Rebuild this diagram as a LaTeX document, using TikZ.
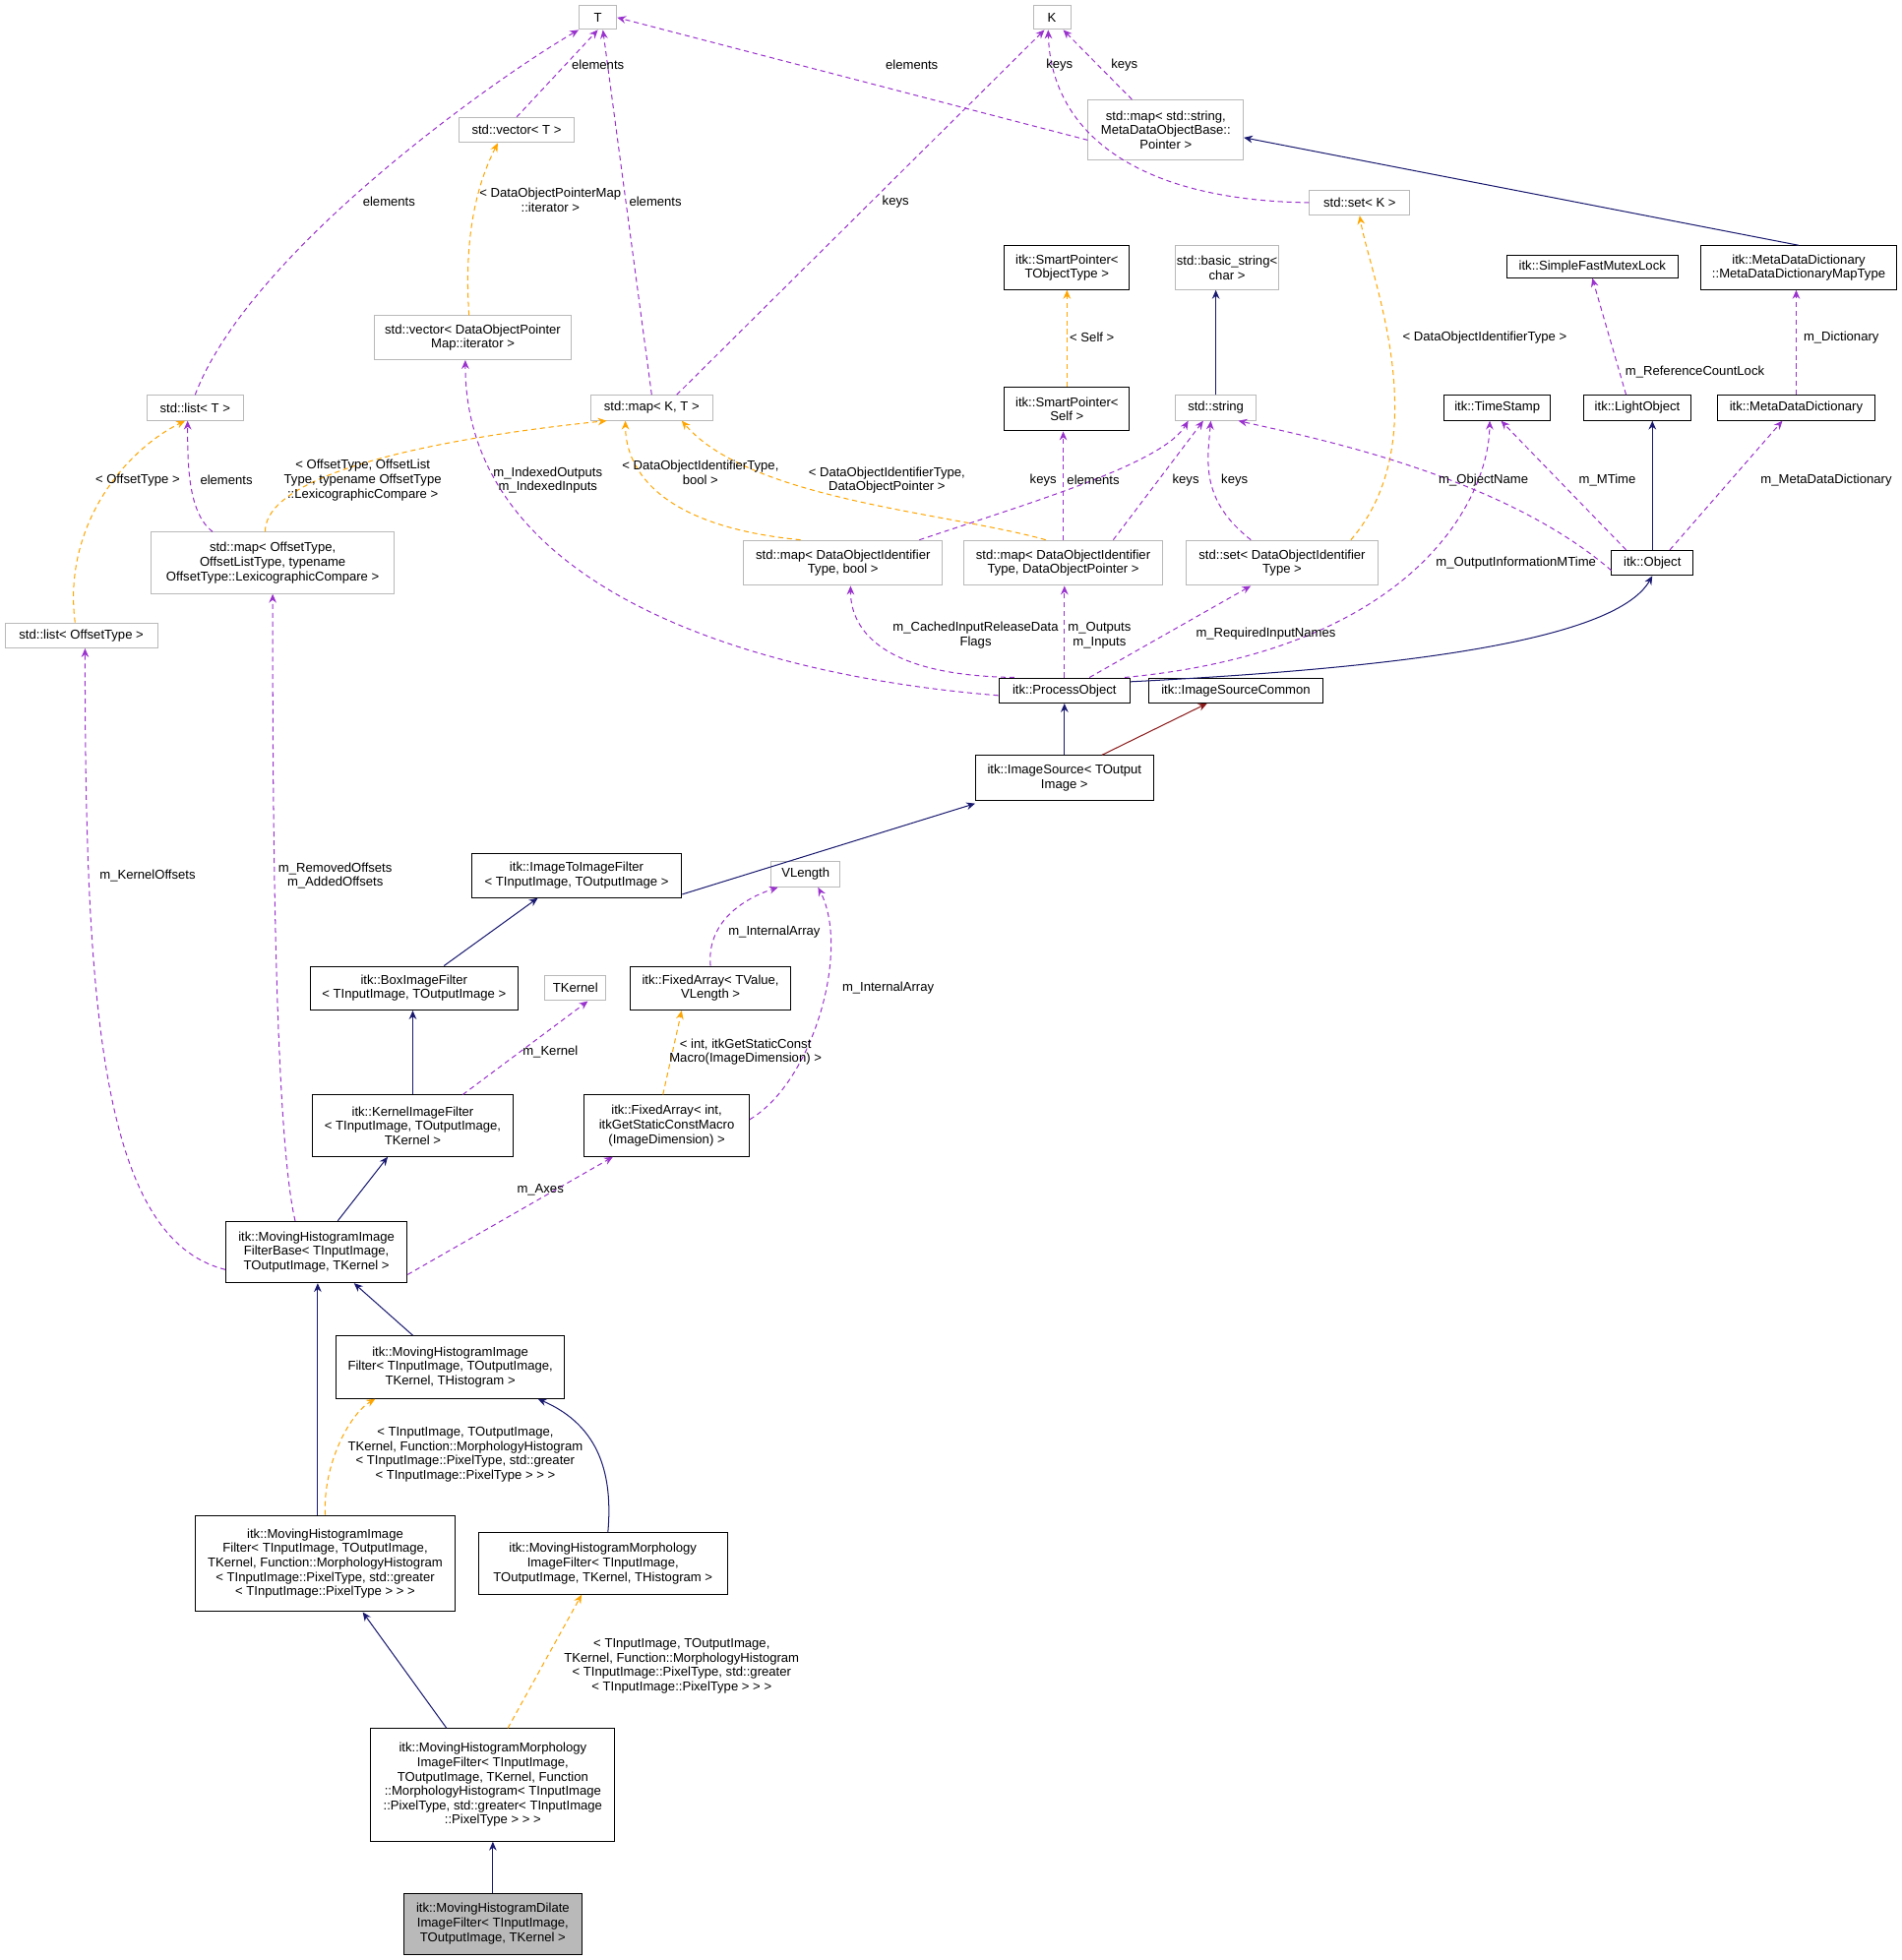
\documentclass[tikz,border=0pt]{standalone}
\usepackage{fontspec}
\setmainfont{Liberation Sans}
\usetikzlibrary{arrows.meta}
\definecolor{navyc}{HTML}{191970}
\definecolor{purp}{HTML}{9A32CD}
\definecolor{orng}{HTML}{FFA500}
\definecolor{dred}{HTML}{8B1A1A}
\tikzset{
 box/.style={draw=black,line width=0.8pt,align=center,inner sep=1pt,font=\fontsize{10.3}{11.5}\selectfont},
 gbox/.style={box,draw=gray!55},
 inh/.style={navyc,line width=0.8pt,-{Stealth[length=7pt,width=6pt]}},
 use/.style={purp,line width=0.8pt,dash pattern=on 4pt off 3pt,-{Stealth[length=7pt,width=6pt]}},
 tmpl/.style={orng,line width=0.8pt,dash pattern=on 4pt off 3pt,-{Stealth[length=7pt,width=6pt]}},
 lab/.style={align=center,inner sep=0pt,font=\fontsize{10.3}{11.5}\selectfont}
}
\newcommand{\bx}[8]{\node[#1,minimum width=#4pt,minimum height=#5pt] (#2) at (#3) {#7};}
\begin{document}
\begin{tikzpicture}[x=1pt,y=-1pt]
\useasboundingbox (0,0) rectangle (1520,1567);
\bx{gbox}{T}{478,14}{30}{19}{}{T}{}
\bx{gbox}{K}{841,14}{30}{19}{}{K}{}
\bx{gbox}{vecT}{413,104}{92}{20}{}{std::vector< T >}{}
\bx{gbox}{mapStr}{932,104}{124}{48}{}{std::map< std::string,\\ MetaDataObjectBase::\\Pointer >}{}
\bx{gbox}{setK}{1087,162}{80}{20}{}{std::set< K >}{}
\bx{gbox}{vecDOP}{378,270}{158}{35}{}{std::vector< DataObjectPointer\\Map::iterator >}{}
\bx{box}{SPT}{853,214}{100}{35}{}{itk::SmartPointer<\\ TObjectType >}{}
\bx{gbox}{bstr}{981,214}{82}{35}{}{std::basic\_string<\\ char >}{}
\bx{box}{SFML}{1273,213}{137}{18}{}{itk::SimpleFastMutexLock}{}
\bx{box}{MDDMT}{1438,214}{157}{35}{}{itk::MetaDataDictionary\\::MetaDataDictionaryMapType}{}
\bx{gbox}{listT}{156,326}{77}{20}{}{std::list< T >}{}
\bx{gbox}{mapKT}{521,326}{98}{20}{}{std::map< K, T >}{}
\bx{box}{SPS}{853,327}{100}{35}{}{itk::SmartPointer<\\ Self >}{}
\bx{gbox}{str}{972,326}{64}{20}{}{std::string}{}
\bx{box}{TS}{1197,326}{85}{20}{}{itk::TimeStamp}{}
\bx{box}{LO}{1309,326}{86}{20}{}{itk::LightObject}{}
\bx{box}{MDD}{1436,326}{126}{20}{}{itk::MetaDataDictionary}{}
\bx{gbox}{mapOff}{218,450}{194}{49}{}{std::map< OffsetType,\\ OffsetListType, typename\\ OffsetType::LexicographicCompare >}{}
\bx{gbox}{mapB}{674,450}{159}{36}{}{std::map< DataObjectIdentifier\\Type, bool >}{}
\bx{gbox}{mapP}{850,450}{159}{36}{}{std::map< DataObjectIdentifier\\Type, DataObjectPointer >}{}
\bx{gbox}{setD}{1025,450}{154}{36}{}{std::set< DataObjectIdentifier\\Type >}{}
\bx{box}{Obj}{1321,450}{65}{20}{}{itk::Object}{}
\bx{gbox}{listOff}{65,508}{122}{20}{}{std::list< OffsetType >}{}
\bx{box}{PO}{851,552}{105}{20}{}{itk::ProcessObject}{}
\bx{box}{ISC}{988,552}{139}{20}{}{itk::ImageSourceCommon}{}
\bx{box}{IS}{851,622}{142}{36}{}{itk::ImageSource< TOutput\\Image >}{}
\bx{box}{ITIF}{461,700}{168}{35}{}{itk::ImageToImageFilter\\< TInputImage, TOutputImage >}{}
\bx{gbox}{VL}{644,699}{55}{20}{}{VLength}{}
\bx{box}{BIF}{331,790}{166}{35}{}{itk::BoxImageFilter\\< TInputImage, TOutputImage >}{}
\bx{gbox}{TK}{460,790}{49}{20}{}{TKernel}{}
\bx{box}{FATV}{568,790}{128}{35}{}{itk::FixedArray< TValue,\\ VLength >}{}
\bx{box}{KIF}{330,900}{160}{49}{}{itk::KernelImageFilter\\< TInputImage, TOutputImage,\\ TKernel >}{}
\bx{box}{FAI}{533,900}{132}{49}{}{itk::FixedArray< int,\\ itkGetStaticConstMacro\\(ImageDimension) >}{}
\bx{box}{MHB}{253,1001}{145}{49}{}{itk::MovingHistogramImage\\FilterBase< TInputImage,\\ TOutputImage, TKernel >}{}
\bx{box}{MHF}{360,1093}{183}{50}{}{itk::MovingHistogramImage\\Filter< TInputImage, TOutputImage,\\ TKernel, THistogram >}{}
\bx{box}{MHF2}{260,1250}{207}{77}{}{itk::MovingHistogramImage\\Filter< TInputImage, TOutputImage,\\ TKernel, Function::MorphologyHistogram\\< TInputImage::PixelType, std::greater\\< TInputImage::PixelType > > >}{}
\bx{box}{MHM}{482,1250}{199}{49}{}{itk::MovingHistogramMorphology\\ImageFilter< TInputImage,\\ TOutputImage, TKernel, THistogram >}{}
\bx{box}{MHM2}{394,1427}{195}{90}{}{itk::MovingHistogramMorphology\\ImageFilter< TInputImage,\\ TOutputImage, TKernel, Function\\::MorphologyHistogram< TInputImage\\::PixelType, std::greater< TInputImage\\::PixelType > > >}{}
\bx{box,fill=gray!55}{Dil}{394,1538}{142}{49}{}{itk::MovingHistogramDilate\\ImageFilter< TInputImage,\\ TOutputImage, TKernel >}{}
% edges
\draw[use] (vecT.north) -- (T.south);
\draw[use] (listT.north) .. controls (200,200) and (400,60) .. (T.south west);
\draw[use] (mapKT.north) -- ([xshift=4pt]T.south);
\draw[use] ([yshift=-8pt]mapStr.west) -- (T.east);
\draw[use] ([xshift=20pt]mapKT.north) -- ([xshift=-6pt]K.south);
\draw[use] ([xshift=-27pt]mapStr.north) -- ([xshift=9pt]K.south);
\draw[use] (setK.west) .. controls (900,160) and (840,100) .. ([xshift=-3pt]K.south);
\draw[inh] (MDDMT.north) -- ([yshift=-6pt]mapStr.east);
\draw[tmpl] ([xshift=-3pt]vecDOP.north) .. controls (370,180) and (385,140) .. ([xshift=-15pt]vecT.south);
\draw[tmpl] (SPS.north) -- (SPT.south);
\draw[inh] (str.north) -- (str.north |- bstr.south);
\draw[tmpl] ([xshift=55pt]setD.north) .. controls (1150,350) and (1095,220) .. (setK.south);
\draw[use] ([xshift=-9pt]LO.north) -- (SFML.south);
\draw[use] (MDD.north) -- (MDD.north |- MDDMT.south);
\draw[tmpl] ([xshift=-5pt]listOff.north) .. controls (50,420) and (100,360) .. ([xshift=-8pt]listT.south);
\draw[use] ([xshift=-48pt]mapOff.north) .. controls (150,410) and (150,370) .. ([xshift=-6pt]listT.south);
\draw[tmpl] ([xshift=-6pt]mapOff.north) .. controls (212,370) and (400,345) .. ([xshift=-36pt]mapKT.south);
\draw[tmpl] ([xshift=-34pt]mapB.north) .. controls (520,420) and (500,370) .. ([xshift=-21pt]mapKT.south);
\draw[tmpl] ([xshift=-14pt]mapP.north) .. controls (760,410) and (600,400) .. ([xshift=24pt]mapKT.south);
\draw[use] ([xshift=61pt]mapB.north) .. controls (830,400) and (930,370) .. ([xshift=-22pt]str.south);
\draw[use] (mapP.north) -- (mapP.north |- SPS.south);
\draw[use] ([xshift=40pt]mapP.north) -- ([xshift=-10pt]str.south);
\draw[use] ([xshift=-25pt]setD.north) .. controls (960,400) and (965,370) .. ([xshift=-4pt]str.south);
\draw[use] ([yshift=-6pt]Obj.west) .. controls (1200,380) and (1050,350) .. ([xshift=18pt]str.south);
\draw[use] ([xshift=-21pt]Obj.north) -- ([xshift=3pt]TS.south);
\draw[inh] (Obj.north) -- (Obj.north |- LO.south);
\draw[use] ([xshift=14pt]Obj.north) -- ([xshift=-11pt]MDD.south);
\draw[use] ([yshift=-4pt]PO.west) .. controls (600,540) and (372,470) .. ([xshift=-6pt]vecDOP.south);
\draw[use] ([xshift=-40pt]PO.north) .. controls (700,540) and (680,500) .. ([xshift=6pt]mapB.south);
\draw[use] (PO.north) -- (PO.north |- mapP.south);
\draw[use] ([xshift=20pt]PO.north) -- ([xshift=-25pt]setD.south);
\draw[use] ([xshift=48pt]PO.north) .. controls (1130,520) and (1190,400) .. ([xshift=-6pt]TS.south);
\draw[inh] ([yshift=7pt]PO.east) .. controls (1100,535) and (1290,515) .. (Obj.south);
\draw[inh] (IS.north) -- (PO.south);
\draw[dred,line width=0.8pt,-{Stealth[length=7pt,width=6pt]}] ([xshift=30pt]IS.north) -- ([xshift=-23pt]ISC.south);
\draw[inh] ([yshift=-15pt]ITIF.east) -- ([yshift=-2pt]IS.south west);
\draw[use] ([xshift=0pt]FATV.north) .. controls (565,740) and (590,720) .. ([xshift=-22pt]VL.south);
\draw[use] ([yshift=5pt]FAI.east) .. controls (650,865) and (680,760) .. ([xshift=10pt]VL.south);
\draw[tmpl] ([xshift=-3pt]FAI.north) -- ([xshift=-23pt]FATV.south);
\draw[inh] ([xshift=24pt]BIF.north) -- ([xshift=-31pt]ITIF.south);
\draw[inh] (KIF.north) -- (KIF.north |- BIF.south);
\draw[use] ([xshift=40pt]KIF.north) -- ([xshift=10pt]TK.south);
\draw[inh] ([xshift=17pt]MHB.north) -- ([xshift=-20pt]KIF.south);
\draw[use] ([yshift=-18pt]MHB.east) -- ([xshift=-43pt]FAI.south);
\draw[use] ([yshift=-14pt]MHB.west) .. controls (80,990) and (68,800) .. ([xshift=3pt]listOff.south);
\draw[use] ([xshift=-17pt]MHB.north) .. controls (218,900) and (218,600) .. (mapOff.south);
\draw[inh] ([xshift=-30pt]MHF.north) -- ([xshift=30pt]MHB.south);
\draw[inh] ([xshift=-6pt]MHF2.north) -- ([xshift=1pt]MHB.south);
\draw[tmpl] (MHF2.north) .. controls (258,1170) and (280,1130) .. ([xshift=-60pt]MHF.south);
\draw[inh] ([xshift=4pt]MHM.north) .. controls (490,1180) and (480,1140) .. ([xshift=70pt]MHF.south);
\draw[inh] ([xshift=-37pt]MHM2.north) -- ([xshift=30pt]MHF2.south);
\draw[tmpl] ([xshift=12pt]MHM2.north) -- ([xshift=-17pt]MHM.south);
\draw[inh] (Dil.north) -- (MHM2.south);
% labels
\node[lab] (l1) at (478,52) {elements};
\node[lab] (l2) at (311,161) {elements};
\node[lab] (l3) at (524,161) {elements};
\node[lab] (l4) at (729,52) {elements};
\node[lab] (l5) at (716,161) {keys};
\node[lab] (l6) at (899,52) {keys};
\node[lab] (l7) at (847,52) {keys};
\node[lab] (l8) at (440,160) {< DataObjectPointerMap\\::iterator >};
\node[lab] (l9) at (873,270) {< Self >};
\node[lab] (l10) at (1187,270) {< DataObjectIdentifierType >};
\node[lab] (l11) at (1355,297) {m\_ReferenceCountLock};
\node[lab] (l12) at (1472,270) {m\_Dictionary};
\node[lab] (l13) at (110,384) {< OffsetType >};
\node[lab] (l14) at (181,384) {elements};
\node[lab] (l15) at (290,384) {< OffsetType, OffsetList\\Type, typename OffsetType\\::LexicographicCompare >};
\node[lab] (l16) at (560,378) {< DataObjectIdentifierType,\\ bool >};
\node[lab] (l17) at (709,384) {< DataObjectIdentifierType,\\DataObjectPointer >};
\node[lab] (l18) at (834,384) {keys};
\node[lab] (l19) at (874,384) {elements};
\node[lab] (l20) at (948,384) {keys};
\node[lab] (l21) at (987,384) {keys};
\node[lab] (l22) at (1186,384) {m\_ObjectName};
\node[lab] (l23) at (1285,384) {m\_MTime};
\node[lab] (l24) at (1460,384) {m\_MetaDataDictionary};
\node[lab] (l25) at (438,384) {m\_IndexedOutputs\\m\_IndexedInputs};
\node[lab] (l26) at (780,508) {m\_CachedInputReleaseData\\Flags};
\node[lab] (l27) at (879,508) {m\_Outputs\\m\_Inputs};
\node[lab] (l28) at (1012,507) {m\_RequiredInputNames};
\node[lab] (l29) at (1212,450) {m\_OutputInformationMTime};
\node[lab] (l30) at (619,745) {m\_InternalArray};
\node[lab] (l31) at (710,790) {m\_InternalArray};
\node[lab] (l32) at (596,841) {< int, itkGetStaticConst\\Macro(ImageDimension) >};
\node[lab] (l33) at (440,841) {m\_Kernel};
\node[lab] (l34) at (432,951) {m\_Axes};
\node[lab] (l35) at (118,700) {m\_KernelOffsets};
\node[lab] (l36) at (268,700) {m\_RemovedOffsets\\m\_AddedOffsets};
\node[lab] (l37) at (372,1163) {< TInputImage, TOutputImage,\\ TKernel, Function::MorphologyHistogram\\< TInputImage::PixelType, std::greater\\< TInputImage::PixelType > > >};
\node[lab] (l38) at (545,1332) {< TInputImage, TOutputImage,\\ TKernel, Function::MorphologyHistogram\\< TInputImage::PixelType, std::greater\\< TInputImage::PixelType > > >};
\end{tikzpicture}
\end{document}
